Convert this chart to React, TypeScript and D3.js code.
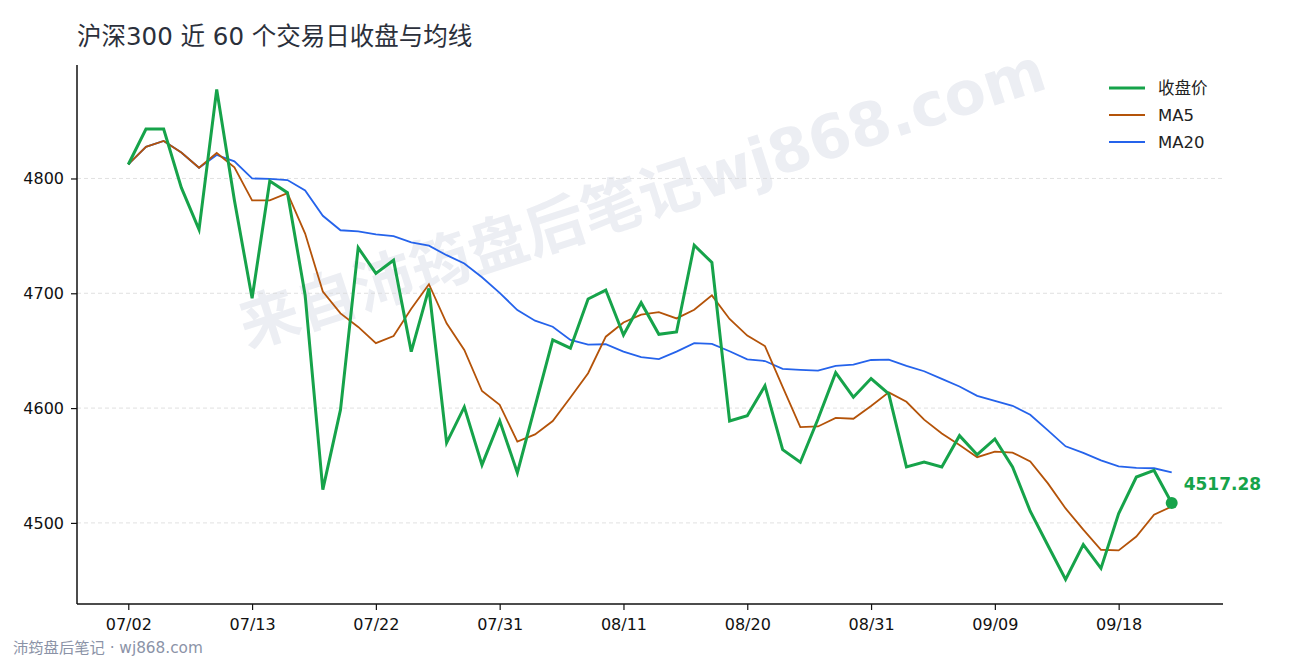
import { useRef, useEffect } from 'react';
import * as d3 from 'd3';

const dates = [
  '07/02', '07/03', '07/06', '07/07', '07/08', '07/09', '07/10', '07/13', '07/14', '07/15',
  '07/16', '07/17', '07/20', '07/21', '07/22', '07/23', '07/24', '07/27', '07/28', '07/29',
  '07/30', '07/31', '08/03', '08/04', '08/05', '08/06', '08/07', '08/10', '08/11', '08/12',
  '08/13', '08/14', '08/17', '08/18', '08/19', '08/20', '08/21', '08/24', '08/25', '08/26',
  '08/27', '08/28', '08/31', '09/01', '09/02', '09/03', '09/04', '09/07', '09/08', '09/09',
  '09/10', '09/11', '09/14', '09/15', '09/16', '09/17', '09/18', '09/21', '09/22', '09/23',
];

const closeValues = [
  4812.2, 4843.0, 4843.0, 4792.0, 4755.5, 4877.5, 4781.0, 4695.6, 4797.7, 4787.6,
  4698.4, 4529.0, 4598.6, 4739.8, 4717.3, 4728.8, 4649.2, 4704.2, 4569.7, 4601.0,
  4550.5, 4589.0, 4543.7, 4601.5, 4659.4, 4652.2, 4695.0, 4702.8, 4663.7, 4691.8,
  4664.3, 4666.3, 4741.8, 4726.8, 4588.8, 4593.3, 4619.4, 4563.8, 4552.8, 4590.5,
  4630.9, 4609.5, 4625.7, 4612.4, 4548.8, 4553.1, 4548.8, 4576.0, 4559.4, 4573.1,
  4548.8, 4510.2, 4480.3, 4450.7, 4481.2, 4460.4, 4508.1, 4540.0, 4545.7, 4517.28,
];

const ma5Values = [
  4812.2, 4827.6, 4832.7, 4822.6, 4809.3, 4822.2, 4809.8, 4780.9, 4780.9, 4787.3,
  4752.0, 4701.5, 4682.5, 4670.7, 4656.6, 4662.7, 4686.6, 4707.9, 4673.8, 4650.6,
  4614.9, 4602.9, 4570.8, 4577.1, 4588.7, 4609.2, 4630.4, 4662.2, 4674.6, 4681.4,
  4683.6, 4678.1, 4685.6, 4698.2, 4677.6, 4663.2, 4654.0, 4618.4, 4583.5, 4584.0,
  4591.5, 4590.7, 4601.9, 4613.7, 4605.5, 4589.9, 4577.8, 4567.8, 4557.2, 4562.1,
  4561.2, 4553.5, 4534.4, 4512.6, 4494.1, 4476.6, 4476.1, 4488.1, 4507.1, 4514.3,
];

const ma20Values = [
  4812.2, 4827.6, 4832.7, 4822.6, 4809.3, 4820.5, 4814.9, 4800.0, 4799.7, 4798.6,
  4789.6, 4767.5, 4754.9, 4754.0, 4751.4, 4749.7, 4744.4, 4741.5, 4733.2, 4725.9,
  4714.0, 4700.4, 4685.4, 4676.1, 4670.9, 4659.4, 4655.3, 4655.6, 4649.2, 4644.4,
  4642.6, 4649.2, 4656.5, 4655.9, 4649.5, 4642.5, 4641.0, 4634.1, 4633.2, 4632.6,
  4636.7, 4637.8, 4641.9, 4642.2, 4636.7, 4632.1, 4625.4, 4618.8, 4610.7, 4606.3,
  4602.0, 4594.2, 4580.6, 4566.7, 4561.0, 4554.5, 4549.3, 4548.0, 4547.6, 4544.1,
];

const yTicks = [4500, 4600, 4700, 4800];

const seriesList = [
  { name: '收盘价', values: closeValues, color: '#16a34a', width: 3 },
  { name: 'MA5', values: ma5Values, color: '#b45309', width: 1.8 },
  { name: 'MA20', values: ma20Values, color: '#2563eb', width: 1.8 },
];

const W = 1290;
const H = 660;
const FONT = '"DejaVu Sans", "Noto Sans CJK SC", sans-serif';

export default function App() {
  const ref = useRef<SVGSVGElement>(null);

  useEffect(() => {
    if (!ref.current) return;
    drawChart(ref.current);
  }, []);

  return (
    <svg
      ref={ref}
      width={W}
      height={H}
      style={{ position: 'absolute', left: 0, top: 0, background: '#fff' }}
    />
  );
}

function drawChart(el: SVGSVGElement) {
  const margin = { top: 65, right: 67, bottom: 56, left: 77 };
  const svg = d3.select(el);
  svg.selectAll('*').remove();

  const x = d3.scalePoint<string>()
    .domain(dates)
    .range([margin.left, W - margin.right])
    .padding(2.9);

  const lo = d3.min(closeValues)!;
  const hi = d3.max(closeValues)!;
  const pad = (hi - lo) * 0.05;
  const y = d3.scaleLinear()
    .domain([lo - pad, hi + pad])
    .range([H - margin.bottom, margin.top]);

  // watermark
  svg.append('text')
    .attr('transform', 'translate(642,198) rotate(-18)')
    .attr('text-anchor', 'middle')
    .attr('dominant-baseline', 'central')
    .style('font-family', FONT)
    .style('font-size', '60px')
    .style('font-weight', 'bold')
    .style('fill', '#eceef3')
    .text('来自沛筠盘后笔记wj868.com');

  // title
  svg.append('text')
    .attr('x', 77)
    .attr('y', 45)
    .style('font-family', FONT)
    .style('font-size', '24.5px')
    .style('fill', '#2b303b')
    .text('沪深300 近 60 个交易日收盘与均线');

  // grid
  svg.append('g')
    .selectAll('line')
    .data(yTicks)
    .join('line')
    .attr('x1', margin.left)
    .attr('x2', W - margin.right)
    .attr('y1', (d) => y(d))
    .attr('y2', (d) => y(d))
    .attr('stroke', '#d9d9d9')
    .attr('stroke-width', 0.8)
    .attr('stroke-dasharray', '4,3');

  const yAxis = svg.append('g')
    .attr('transform', `translate(${margin.left},0)`)
    .call(d3.axisLeft(y).tickValues(yTicks).tickSize(6).tickPadding(7).tickFormat(d3.format('d')));
  yAxis.select('.domain').attr('d', `M0,${margin.top}V${H - margin.bottom}`).attr('stroke', '#111').attr('stroke-width', 1.5);

  const tickDates = dates.filter((_, i) => i % 7 === 0);
  const xAxis = svg.append('g')
    .attr('transform', `translate(0,${H - margin.bottom})`)
    .call(d3.axisBottom(x).tickValues(tickDates).tickSize(6).tickPadding(9));
  xAxis.select('.domain').attr('d', `M${margin.left},0H${W - margin.right}`).attr('stroke', '#111').attr('stroke-width', 1.5);

  svg.selectAll('.tick line').attr('stroke', '#111').attr('stroke-width', 1.2);
  svg.selectAll('.tick text')
    .style('font-family', FONT)
    .style('font-size', '16px')
    .style('fill', '#111');

  const line = d3.line<number>()
    .x((_, i) => x(dates[i])!)
    .y((d) => y(d));

  // draw MA lines first, close on top
  [seriesList[2], seriesList[1], seriesList[0]].forEach((s) => {
    svg.append('path')
      .datum(s.values)
      .attr('fill', 'none')
      .attr('stroke', s.color)
      .attr('stroke-width', s.width)
      .attr('stroke-linejoin', 'miter')
      .attr('d', line);
  });

  // last close marker
  const lastI = closeValues.length - 1;
  const lx = x(dates[lastI])!;
  const ly = y(closeValues[lastI]);
  svg.append('circle')
    .attr('cx', lx)
    .attr('cy', ly)
    .attr('r', 6)
    .attr('fill', '#16a34a');
  svg.append('text')
    .attr('x', lx + 12)
    .attr('y', ly - 19)
    .attr('dominant-baseline', 'central')
    .style('font-family', FONT)
    .style('font-size', '17px')
    .style('font-weight', 'bold')
    .style('fill', '#16a34a')
    .text(closeValues[lastI].toFixed(2));

  // legend
  const legend = svg.append('g').attr('transform', 'translate(1109,88)');
  seriesList.forEach((s, i) => {
    const g = legend.append('g').attr('transform', `translate(0,${i * 27})`);
    g.append('line')
      .attr('x1', 0)
      .attr('x2', 36)
      .attr('stroke', s.color)
      .attr('stroke-width', s.width);
    g.append('text')
      .attr('x', 49)
      .attr('dominant-baseline', 'central')
      .style('font-family', FONT)
      .style('font-size', '16.5px')
      .style('fill', '#222')
      .text(s.name);
  });

  // footer
  svg.append('text')
    .attr('x', 13)
    .attr('y', 653)
    .style('font-family', FONT)
    .style('font-size', '15.3px')
    .style('fill', '#8b93a7')
    .text('沛筠盘后笔记 · wj868.com');
}
